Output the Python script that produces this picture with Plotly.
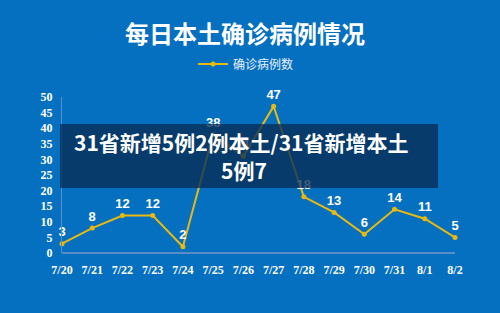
import plotly.graph_objects as go

dates = ["7/20", "7/21", "7/22", "7/23", "7/24", "7/25", "7/26",
         "7/27", "7/28", "7/29", "7/30", "7/31", "8/1", "8/2"]
cases = [3, 8, 12, 12, 2, 38, 31, 47, 18, 13, 6, 14, 11, 5]
y_ticks = [0, 5, 10, 15, 20, 25, 30, 35, 40, 45, 50]

title_text = "每日本土确诊病例情况"
series_name = "确诊病例数"
overlay_line1 = "31省新增5例2例本土/31省新增本土"
overlay_line2 = "5例7"

BG = "#0670C0"
GOLD = "#E8B90F"

fig = go.Figure()
fig.add_trace(go.Scatter(
    x=list(range(len(dates))), y=cases, mode="lines+markers+text",
    name=series_name,
    line=dict(color=GOLD, width=2),
    marker=dict(color=GOLD, size=5),
    text=[str(v) for v in cases], textposition="top center",
    textfont=dict(family="Liberation Sans Narrow, Arial Narrow, sans-serif", size=13,
                  color="white", weight="bold"),
    cliponaxis=False,
))

W, H = 500, 313
L, R, T, B = 62, 45, 97, 60
pw, ph = W - L - R, H - T - B

def px_x(x):
    return (x - L) / pw

def px_y(y):
    return (H - B - y) / ph

fig.update_layout(
    width=W, height=H,
    margin=dict(l=L, r=R, t=T, b=B, autoexpand=False),
    paper_bgcolor=BG, plot_bgcolor=BG,
    showlegend=True,
    legend=dict(orientation="h", x=px_x(193), xanchor="left",
                y=px_y(64), yanchor="middle",
                font=dict(family="Noto Sans CJK SC", size=12, color="#E8F0FA"),
                bgcolor="rgba(0,0,0,0)"),
    title=dict(text="<b>" + title_text + "</b>", x=px_x(245), xref="paper", xanchor="center",
               y=1 - 35 / H, yanchor="middle",
               font=dict(family="Noto Sans CJK SC", size=24, color="white")),
    xaxis=dict(range=[0, len(dates) - 1], tickmode="array",
               tickvals=list(range(len(dates))), ticktext=dates, tickangle=0,
               showgrid=False, zeroline=False, showline=False, ticks="",
               ticklabelstandoff=8,
               tickfont=dict(family="Liberation Serif, Times New Roman, serif", size=12, color="white", weight="bold")),
    yaxis=dict(range=[0, 50], tickmode="array", tickvals=y_ticks,
               showgrid=False, zeroline=True, zerolinecolor="#5A8CC8", zerolinewidth=2,
               showline=True, linecolor="#5A8CC8", linewidth=1, ticks="",
               ticklabelstandoff=6,
               tickfont=dict(family="Liberation Serif, Times New Roman, serif", size=12, color="white", weight="bold")),
)

fig.add_shape(type="rect", xref="paper", yref="paper",
              x0=px_x(60), x1=px_x(438), y0=px_y(188), y1=px_y(124),
              fillcolor="rgba(8,45,85,0.78)", line=dict(width=0), layer="above")

fig.add_annotation(xref="paper", yref="paper", x=px_x(241), y=px_y(142),
                   text="<b>" + overlay_line1 + "</b>", showarrow=False,
                   xanchor="center", yanchor="middle",
                   font=dict(family="Noto Sans CJK SC", size=21, color="white"))
fig.add_annotation(xref="paper", yref="paper", x=px_x(244), y=px_y(170),
                   text="<b>" + overlay_line2 + "</b>", showarrow=False,
                   xanchor="center", yanchor="middle",
                   font=dict(family="Noto Sans CJK SC", size=21, color="white"))

fig.write_html("out.html")
